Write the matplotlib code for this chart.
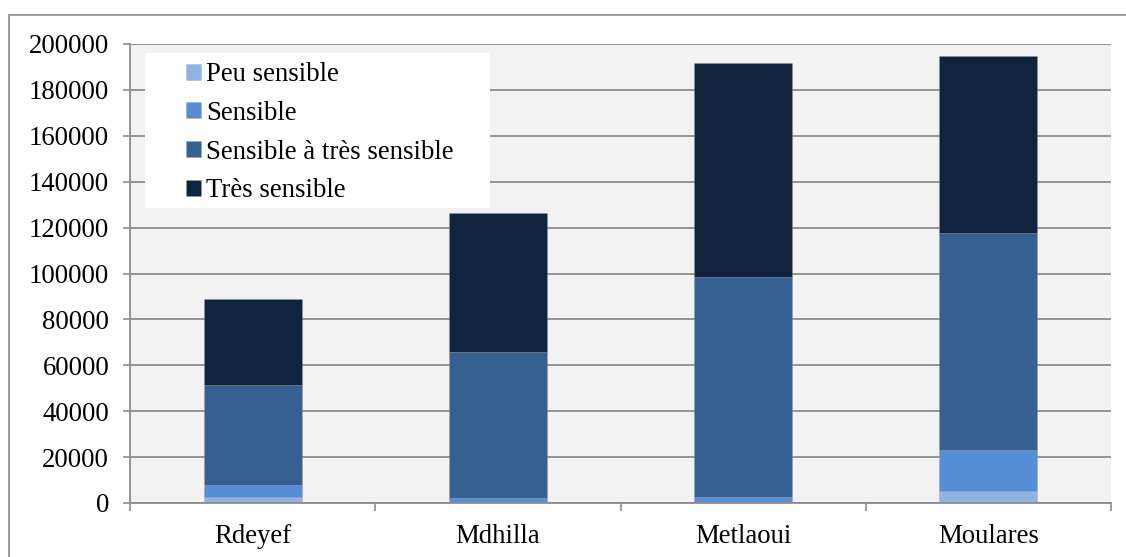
import matplotlib
matplotlib.use("Agg")
import matplotlib.pyplot as plt
from matplotlib.patches import Rectangle
import numpy as np

categories = ["Rdeyef", "Mdhilla", "Metlaoui", "Moulares"]
series_names = ["Peu sensible", "Sensible", "Sensible à très sensible", "Très sensible"]
peu_sensible = [2500, 200, 200, 5300]
sensible = [5500, 2100, 2600, 17700]
sensible_tres = [43400, 63400, 95700, 94700]
tres_sensible = [37500, 60800, 93100, 77200]
yticks = [0, 20000, 40000, 60000, 80000, 100000, 120000, 140000, 160000, 180000, 200000]

colors = ["#8EB4E3", "#558ED5", "#376092", "#10243E"]

plt.rcParams['font.family'] = ['Liberation Serif', 'DejaVu Serif']

fig = plt.figure(figsize=(11.26, 5.57), dpi=100)
fig.patch.set_facecolor("white")
# outer chart border
fig.patches.append(Rectangle((9/1126, -0.2), 1.2, 1.2 - 15/557, transform=fig.transFigure,
                             fill=False, edgecolor="#8C8C8C", linewidth=1.2))
ax = fig.add_axes([130/1126, 1-503/557, 981/1126, 459/557])
ax.set_facecolor("#F2F2F2")

x = np.arange(len(categories))
data = [peu_sensible, sensible, sensible_tres, tres_sensible]
bottom = np.zeros(len(categories))
handles = []
for vals, name, c in zip(data, series_names, colors):
    b = ax.bar(x, vals, width=0.40, bottom=bottom, color=c, label=name,
               edgecolor=(0.6, 0.6, 0.6, 0.35), linewidth=0.6, zorder=2)
    handles.append(b)
    bottom += np.array(vals)

ax.set_xlim(-0.5, 3.5)
ax.set_ylim(0, 200000)
ax.set_yticks(yticks)
ax.set_yticklabels([str(v) for v in yticks])
ax.set_xticks(x)
ax.set_xticklabels(categories)
ax.set_xticks(np.arange(-0.5, 4.0, 1.0), minor=True)
ax.tick_params(axis='x', which='major', length=0, pad=15, labelsize=19.3)
ax.tick_params(axis='x', which='minor', length=6, width=1.2, color="#8C8C8C", direction='out')
ax.tick_params(axis='y', length=5, width=1.2, color="#8C8C8C", pad=10, labelsize=19.3)
ax.yaxis.grid(True, color="#8C8C8C", linewidth=1.3)
ax.set_axisbelow(True)
for s in ["top", "right"]:
    ax.spines[s].set_visible(False)
for s in ["left", "bottom"]:
    ax.spines[s].set_color("#8C8C8C")
    ax.spines[s].set_linewidth(1.3)

# legend box
ax.add_patch(Rectangle((0.0153, 0.643), 0.352, 0.337, transform=ax.transAxes,
                       facecolor="white", edgecolor="none", zorder=3))
leg = ax.legend(handles=handles, loc="upper left", bbox_to_anchor=(0.052, 0.972),
                frameon=False, fontsize=19.3, handlelength=0.55, handleheight=0.55,
                handletextpad=0.2, labelspacing=0.51, borderpad=0.2, borderaxespad=0)
leg.set_zorder(5)

fig.savefig("out.png", dpi=100, facecolor="white")
